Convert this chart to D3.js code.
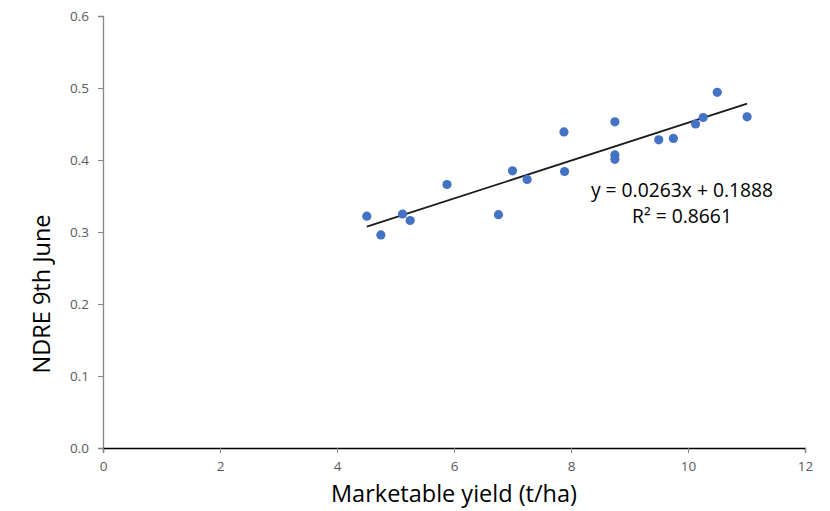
<!DOCTYPE html>
<html>
<head>
<meta charset="utf-8">
<script src="https://cdn.jsdelivr.net/npm/d3@7"></script>
<style>
  body { margin: 0; background: #fff; }
  text { font-family: "Open Sans", sans-serif; }
</style>
</head>
<body>
<svg id="chart" width="830" height="511"></svg>
<script>
// marketable yield (t/ha) vs NDRE on 9th June
var yieldVals = [4.51, 4.75, 5.12, 5.25, 5.88, 6.76, 7.00, 7.25, 7.89, 7.88,
                 8.75, 8.75, 8.75, 9.50, 9.75, 10.13, 10.26, 10.50, 11.01];
var ndreVals  = [0.322, 0.296, 0.325, 0.316, 0.366, 0.324, 0.385, 0.373, 0.384, 0.439,
                 0.453, 0.407, 0.401, 0.428, 0.430, 0.450, 0.459, 0.494, 0.460];
var xTicks = [0, 2, 4, 6, 8, 10, 12];
var yTicks = [0, 0.1, 0.2, 0.3, 0.4, 0.5, 0.6];
var slope = 0.0263, intercept = 0.1888, r2 = 0.8661;

var svg = d3.select("#chart");
var x = d3.scaleLinear().domain([0, 12]).range([103, 805]);
var y = d3.scaleLinear().domain([0, 0.6]).range([448, 16]);

// y axis
var yAxis = svg.append("g")
    .attr("transform", "translate(103,0)")
    .call(d3.axisLeft(y).tickValues(yTicks).tickFormat(d3.format(".1f")).tickSize(5).tickPadding(9));
yAxis.select(".domain").attr("stroke", "#868686").attr("stroke-width", 1.3);
yAxis.selectAll(".tick line").attr("stroke", "#868686");
yAxis.selectAll(".tick text").attr("fill", "#595959").style("font-size", "13.5px");

// x axis
var xAxis = svg.append("g")
    .attr("transform", "translate(0,448)")
    .call(d3.axisBottom(x).tickValues(xTicks).tickSize(5).tickPadding(8));
xAxis.select(".domain").attr("stroke", "#000").attr("stroke-width", 1.3);
xAxis.selectAll(".tick line").attr("stroke", "#868686");
xAxis.selectAll(".tick text").attr("fill", "#595959").style("font-size", "13.5px");

var pts = yieldVals.map(function (v, i) { return [v, ndreVals[i]]; });

// trendline
var xMin = d3.min(yieldVals), xMax = d3.max(yieldVals);
svg.append("line")
    .attr("x1", x(xMin)).attr("y1", y(slope * xMin + intercept))
    .attr("x2", x(xMax)).attr("y2", y(slope * xMax + intercept))
    .attr("stroke", "#1a1a1a")
    .attr("stroke-width", 1.8);

svg.append("g")
    .selectAll("circle")
    .data(pts)
    .enter()
    .append("circle")
    .attr("cx", function (d) { return x(d[0]); })
    .attr("cy", function (d) { return y(d[1]); })
    .attr("r", 4.6)
    .attr("fill", "#4472C4");

// equation label
svg.append("text")
    .attr("x", 682).attr("y", 197)
    .attr("text-anchor", "middle")
    .style("font-size", "19.3px")
    .attr("fill", "#000")
    .text("y = " + slope + "x + " + intercept);
svg.append("text")
    .attr("x", 682).attr("y", 223)
    .attr("text-anchor", "middle")
    .style("font-size", "19.3px")
    .attr("fill", "#000")
    .text("R² = " + r2);

// axis titles
svg.append("text")
    .attr("x", 454).attr("y", 502)
    .attr("text-anchor", "middle")
    .style("font-size", "23.5px")
    .attr("fill", "#000")
    .text("Marketable yield (t/ha)");
svg.append("text")
    .attr("transform", "translate(50,294) rotate(-90)")
    .attr("text-anchor", "middle")
    .style("font-size", "23.5px")
    .attr("fill", "#000")
    .text("NDRE 9th June");
</script>
</body>
</html>
